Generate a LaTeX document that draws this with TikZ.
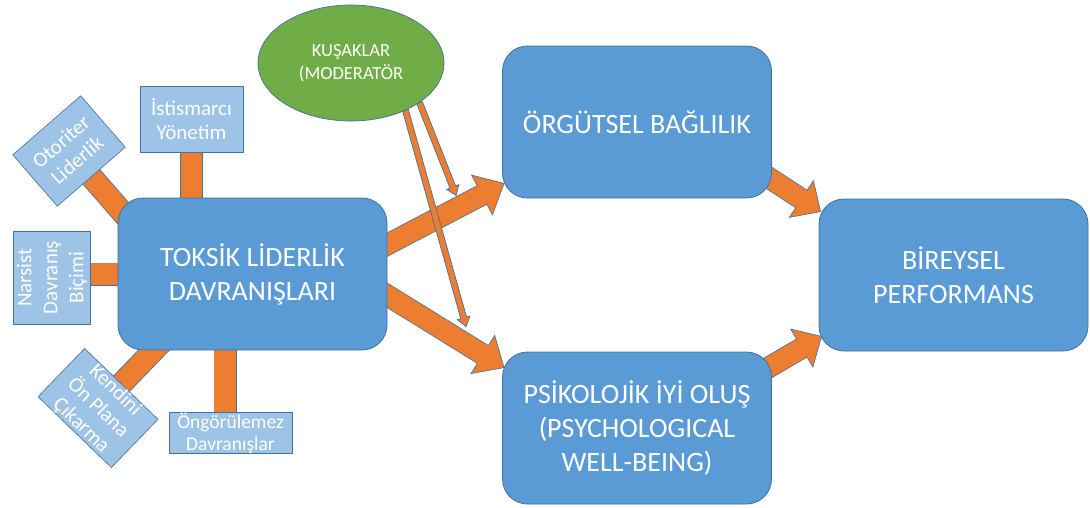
\documentclass[tikz,border=0pt]{standalone}
\usepackage{fontspec}
\setmainfont{Carlito}
\usetikzlibrary{calc,shapes.geometric}

\definecolor{boxblue}{RGB}{91,155,213}
\definecolor{paleblue}{RGB}{157,195,230}
\definecolor{edgeblue}{RGB}{65,113,156}
\definecolor{barorange}{RGB}{237,125,49}
\definecolor{leafgreen}{RGB}{112,173,71}

\pgfdeclarelayer{bg}
\pgfsetlayers{bg,main}

% block arrow: style, from, to, shaft half width, head half width, head length
\newcommand\blockarrow[6]{%
  \coordinate (ba-h) at ($(#3)!#6!(#2)$);
  \draw[#1] ($(#2)!#4!90:(#3)$) -- ($(ba-h)!#4!90:(#3)$) -- ($(ba-h)!#5!90:(#3)$)
    -- (#3) -- ($(ba-h)!#5!-90:(#3)$) -- ($(ba-h)!#4!-90:(#3)$)
    -- ($(#2)!#4!-90:(#3)$) -- cycle;
}

\begin{document}
\begin{tikzpicture}[x=1pt,y=-1pt,
  bigbox/.style={draw=edgeblue, line width=0.8pt, fill=boxblue, rounded corners=25pt,
    minimum width=269pt, minimum height=152pt, inner sep=0pt, text=white, align=center,
    font=\fontsize{28}{34}\selectfont},
  smallbox/.style={draw=edgeblue, line width=0.6pt, fill=paleblue, inner sep=0pt,
    text=white, align=center, font=\fontsize{21}{24.5}\selectfont},
  bar/.style={draw=edgeblue, line width=23pt,
    postaction={draw=barorange, line width=21.4pt}},
  fatarrow/.style={draw=edgeblue, line width=0.6pt, fill=barorange, line join=miter},
  thinarrow/.style={draw=edgeblue, line width=0.7pt, fill=barorange, line join=miter}
]
\useasboundingbox (0,0) rectangle (1090,507);

% main constructs
\node[bigbox] (tox) at (252.5,274) {TOKSİK LİDERLİK\\DAVRANIŞLARI};
\node[bigbox] (org) at (637,122) {ÖRGÜTSEL BAĞLILIK};
\node[bigbox] (psy) at (637,428) {PSİKOLOJİK İYİ OLUŞ\\(PSYCHOLOGICAL\\WELL-BEING)};
\node[bigbox] (bir) at (953.5,275) {BİREYSEL\\PERFORMANS};

% moderator
\node[ellipse, draw=edgeblue, line width=0.7pt, fill=leafgreen, minimum width=186pt,
  minimum height=116pt, inner sep=0pt, text=white, align=center,
  font=\fontsize{18.5}{23}\selectfont] (kus) at (351,63) {KUŞAKLAR\\(MODERATÖR};

% toxic leadership dimensions
\node[smallbox, minimum width=103pt, minimum height=66pt] (ist) at (191.5,119) {İstismarcı\\Yönetim};
\node[smallbox, minimum width=90pt, minimum height=68pt, rotate=41] (oto) at (69,151) {Otoriter\\Liderlik};
\node[smallbox, minimum width=93pt, minimum height=77pt, rotate=90,
  font=\fontsize{21}{26}\selectfont] (nar) at (52,277.5) {Narsist\\Davranış\\Biçimi};
\node[smallbox, minimum width=102pt, minimum height=67pt, rotate=-44] (ken) at (98,408) {Kendini\\Ön Plana\\Çıkarma};
\node[smallbox, minimum width=123pt, minimum height=40pt, font=\fontsize{19.5}{22}\selectfont] (ong) at (230.5,433) {Öngörülemez\\Davranışlar};

% arrow end points
\coordinate (a1s) at ([xshift=-20pt,yshift=19pt]tox.east);
\coordinate (a1t) at ([xshift=2pt,yshift=15pt]org.south west);
\coordinate (a2s) at ([xshift=-20pt,yshift=-9pt]tox.east);
\coordinate (a2t) at ([xshift=2pt,yshift=-16pt]psy.north west);
\coordinate (a3s) at ([xshift=-34pt,yshift=41pt]org.south east);
\coordinate (a3t) at ([xshift=2pt,yshift=-13pt]bir.north west);
\coordinate (a4s) at ([xshift=-36pt,yshift=-35pt]psy.north east);
\coordinate (a4t) at ([xshift=3pt,yshift=15pt]bir.south west);
\coordinate (m1s) at (kus.-30);
\coordinate (m1t) at ([xshift=-46pt,yshift=3pt]org.south west);
\coordinate (m2s) at (kus.-41);
\coordinate (m2t) at ([xshift=-36pt,yshift=25pt]psy.north west);

\begin{pgfonlayer}{bg}
  % links from the dimensions to the toxic leadership box
  \draw[bar] (ist.center) -- (ist.center |- tox.center);
  \draw[bar] (oto.center) -- ($(oto.center)!110pt!(oto.south)$);
  \draw[bar] ([yshift=3.5pt]nar.center) -- ([yshift=3.5pt]tox.center |- nar.center);
  \draw[bar] (ken.center) -- ($(ken.center)!105pt!(ken.north)$);
  \draw[bar] ([xshift=-5.5pt]ong.center) -- ([xshift=-5.5pt]ong.center |- tox.center);
  % main paths
  \blockarrow{fatarrow}{a1s}{a1t}{10.5pt}{22.5pt}{25pt}
  \blockarrow{fatarrow}{a2s}{a2t}{10.5pt}{22.5pt}{25pt}
  \blockarrow{fatarrow}{a3s}{a3t}{10.5pt}{22pt}{23pt}
  \blockarrow{fatarrow}{a4s}{a4t}{10.5pt}{22pt}{23pt}
  % moderating effects
  \blockarrow{thinarrow}{m1s}{m1t}{3pt}{6.5pt}{9pt}
  \blockarrow{thinarrow}{m2s}{m2t}{3pt}{6.5pt}{9pt}
\end{pgfonlayer}
\end{tikzpicture}
\end{document}
